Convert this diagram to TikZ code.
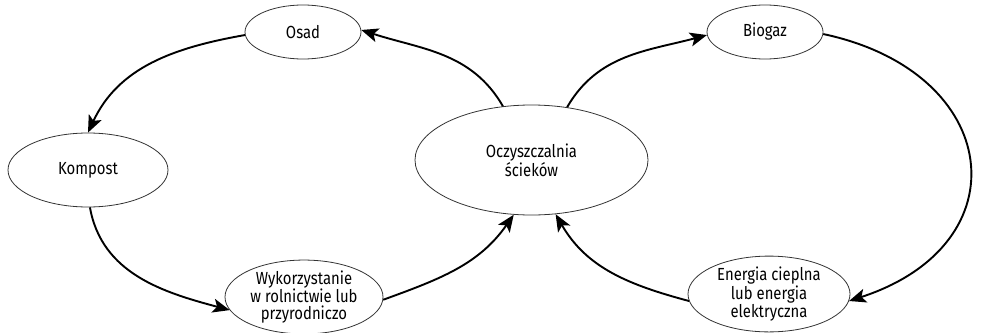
\documentclass[tikz,border=0pt]{standalone}
\usepackage{fontspec}
\setmainfont{Fira Sans}[FakeStretch=0.85]
\usetikzlibrary{shapes.geometric,arrows.meta}
\begin{document}
\begin{tikzpicture}[x=1pt,y=-1pt,
  elip/.style={ellipse,draw=black!80,line width=0.8pt,inner sep=0pt,align=center,
    font=\fontsize{17.5}{16.5}\selectfont,text=black},
  conn/.style={line width=1.9pt,-{Stealth[length=17pt,width=14pt,inset=4pt]}}]
\useasboundingbox (0,0) rectangle (981,332);
\node[elip,minimum width=116pt,minimum height=54pt] (osad) at (303,32) {Osad};
\node[elip,minimum width=160pt,minimum height=74pt] (komp) at (88,170) {Kompost};
\node[elip,minimum width=158pt,minimum height=68pt] (wyk) at (304,297) {Wykorzystanie\\w rolnictwie lub\\przyrodniczo};
\node[elip,minimum width=233pt,minimum height=110pt] (ocz) at (531.5,160) {Oczyszczalnia\\ścieków};
\node[elip,minimum width=116pt,minimum height=54pt] (bio) at (765,32) {Biogaz};
\node[elip,minimum width=162pt,minimum height=72pt] (ene) at (769,294) {Energia cieplna\\lub energia\\elektryczna};
\draw[conn] (ocz.118) to[out=120,in=-18] (osad.2);
\draw[conn] (osad.183) to[out=190,in=65] (komp.90);
\draw[conn] (komp.273) to[out=-80,in=165] (wyk.190);
\draw[conn] (wyk.-2) to[out=20,in=235] (ocz.252);
\draw[conn] (ocz.56) to[out=60,in=195] (bio.183);
\draw[conn] (bio.-2) to[out=-12,in=18,looseness=1.75] (ene.355);
\draw[conn] (ene.185) to[out=165,in=-60] (ocz.294);
\end{tikzpicture}
\end{document}
